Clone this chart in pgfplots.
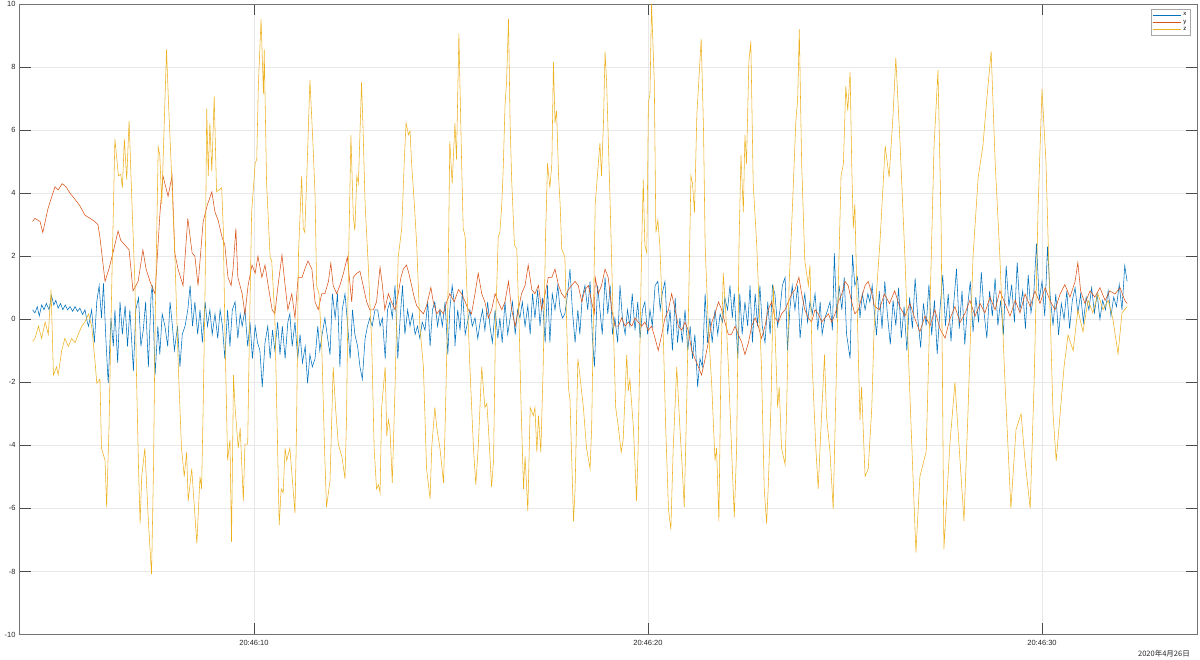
\documentclass[border=0pt]{standalone}
\usepackage{fontspec}
\setmainfont{Liberation Sans}
\newfontfamily\cjk{Noto Sans CJK JP}
\usepackage{pgfplots}
\pgfplotsset{compat=1.18}
\usetikzlibrary{calc}

\definecolor{mx}{RGB}{0,114,189}
\definecolor{my}{RGB}{217,83,25}
\definecolor{mz}{RGB}{237,177,32}

\begin{document}
\begin{tikzpicture}
\begin{axis}[
  scale only axis,
  width=1178pt, height=630.5pt,
  xmin=4.036, xmax=33.934,
  ymin=-10, ymax=10,
  xtick={10,20,30},
  xticklabels={20:46:10,20:46:20,20:46:30},
  ytick={-10,-8,...,10},
  tick align=inside, tick pos=both,
  major tick length=11.5pt,
  grid=major,
  major grid style={black!9, line width=0.6pt},
  axis line style={black!55, line width=0.6pt},
  every tick/.style={black!70, line width=0.6pt},
  tick label style={font=\fontsize{7.5}{9}\selectfont, text=black!85},
  xticklabel style={yshift=-2pt},
  /pgf/number format/assume math mode=true,
  no markers,
  legend cell align=left,
  legend style={at={(1,1)}, anchor=north east, xshift=-7pt, yshift=-5pt,
    font=\fontsize{6}{6}\selectfont, draw=black!35, line width=0.5pt,
    inner sep=1.5pt, row sep=-1.5pt},
  legend image code/.code={\draw[#1] (0pt,0pt) -- (28pt,0pt);},
]
\coordinate (sw) at (rel axis cs:0,0);
\coordinate (ne) at (rel axis cs:1,1);

% x
\addplot[mx, line width=0.55pt] coordinates {
(4.38,0.3) (4.44,0.2) (4.50,0.4) (4.55,0.1) (4.61,0.45) (4.67,0.3) (4.73,0.5) (4.80,0.3)
(4.86,0.75) (4.92,0.45) (4.97,0.6) (5.03,0.35) (5.09,0.5) (5.15,0.3) (5.21,0.45) (5.27,0.3)
(5.33,0.4) (5.40,0.25) (5.46,0.4) (5.52,0.25) (5.58,0.35) (5.65,0.15) (5.71,0.3) (5.77,-0.1)
(5.80,-0.22) (5.88,0.3) (5.95,-0.74) (6.01,0.55) (6.07,1.07) (6.13,0.04) (6.18,1.14) (6.24,-0.61)
(6.30,-2.03) (6.37,0.04) (6.43,-0.86) (6.47,0.3) (6.54,-1.38) (6.60,0.55) (6.66,-0.48) (6.73,0.43)
(6.79,-0.86) (6.85,0.3) (6.94,-1.64) (7.00,0.3) (7.07,0.68) (7.13,-0.86) (7.19,-0.35) (7.25,0.55)
(7.32,-1.51) (7.39,0.81) (7.42,1.07) (7.49,-1.77) (7.56,-0.22) (7.61,-1.12) (7.67,0.17) (7.74,-0.22)
(7.81,-0.86) (7.87,0.55) (7.93,-0.22) (7.98,-0.99) (8.06,-0.22) (8.12,-1.51) (8.18,-0.48) (8.25,-0.22)
(8.32,0.3) (8.38,1.07) (8.44,-0.22) (8.50,0.55) (8.57,-0.48) (8.63,0.3) (8.69,-0.74) (8.76,0.55)
(8.82,-0.22) (8.88,0.3) (8.94,-0.48) (9.01,0.17) (9.08,-0.61) (9.14,0.3) (9.20,-0.22) (9.26,-1.25)
(9.33,0.3) (9.39,-0.86) (9.45,0.3) (9.52,0.55) (9.59,-0.61) (9.65,0.17) (9.70,-0.22) (9.77,0.3)
(9.84,-0.86) (9.90,-0.09) (9.96,-1.25) (10.03,-0.22) (10.09,-0.74) (10.15,-0.99) (10.21,-2.15) (10.28,-0.74)
(10.35,-0.22) (10.41,-1.25) (10.47,-0.35) (10.53,-0.99) (10.60,-0.09) (10.66,-1.12) (10.72,-0.22) (10.79,-1.25)
(10.86,-0.09) (10.91,0.17) (10.97,-0.86) (11.04,-0.09) (11.11,-1.25) (11.17,-0.48) (11.23,-1.38) (11.30,-0.86)
(11.36,-2.03) (11.42,-1.12) (11.48,-1.51) (11.55,-1.25) (11.62,-0.22) (11.67,-0.99) (11.73,-0.48) (11.80,0.04)
(11.87,-0.61) (11.93,-1.12) (11.99,0.81) (12.06,0.04) (12.12,0.81) (12.18,-1.51) (12.24,0.3) (12.31,0.81)
(12.38,-0.22) (12.44,-1.25) (12.50,0.3) (12.56,-0.48) (12.63,-0.86) (12.69,-1.51) (12.75,-1.9) (12.82,-0.61)
(12.88,-0.22) (12.94,0.04) (13.00,-0.22) (13.07,0.3) (13.14,0.3) (13.20,-0.22) (13.26,0.04) (13.33,-1.25)
(13.39,0.3) (13.45,0.55) (13.51,0.04) (13.58,1.07) (13.65,-1.25) (13.71,0.04) (13.77,1.07) (13.83,-0.48)
(13.90,0.3) (13.96,-0.22) (14.02,0.17) (14.09,-0.48) (14.15,-0.22) (14.21,-0.61) (14.27,-0.09) (14.34,-0.35)
(14.41,0.55) (14.47,-0.86) (14.53,0.3) (14.59,0.55) (14.66,-0.22) (14.72,0.3) (14.78,-0.22) (14.85,0.55)
(14.92,-1.12) (14.97,0.3) (15.03,1.07) (15.08,0.55) (15.10,-0.86) (15.17,0.3) (15.23,-0.35) (15.29,0.94)
(15.36,-0.48) (15.42,-0.09) (15.48,0.3) (15.54,-0.22) (15.61,0.04) (15.68,-0.61) (15.74,-0.09) (15.80,0.3)
(15.86,-0.35) (15.93,0.55) (15.99,-0.22) (16.05,-0.74) (16.12,0.3) (16.19,-0.61) (16.24,0.04) (16.30,-0.74)
(16.37,0.55) (16.44,-0.48) (16.50,0.04) (16.56,0.55) (16.63,-0.48) (16.69,0.3) (16.75,0.04) (16.81,0.55)
(16.88,-0.22) (16.95,0.43) (17.01,-0.48) (17.07,0.81) (17.13,0.04) (17.20,0.94) (17.26,-0.22) (17.32,0.68)
(17.39,-0.74) (17.45,1.07) (17.51,-0.74) (17.57,0.81) (17.64,0.3) (17.71,1.07) (17.77,0.3) (17.83,0.04)
(17.89,0.17) (17.96,0.81) (18.02,1.59) (18.08,0.3) (18.15,-0.74) (18.22,0.3) (18.27,-0.48) (18.33,0.68)
(18.40,1.07) (18.47,0.3) (18.53,1.2) (18.59,-0.61) (18.64,-1.51) (18.72,1.07) (18.78,0.3) (18.84,-0.48)
(18.91,1.33) (18.98,0.17) (19.04,1.07) (19.10,-0.48) (19.16,0.04) (19.23,-0.74) (19.29,1.07) (19.35,0.04)
(19.42,-0.48) (19.48,0.3) (19.54,-0.22) (19.60,0.81) (19.67,-0.35) (19.74,0.55) (19.80,-0.61) (19.86,0.3)
(19.92,0.55) (19.99,-0.48) (20.05,0.3) (20.11,-0.22) (20.18,1.07) (20.25,1.2) (20.31,0.3) (20.36,0.81)
(20.43,1.2) (20.50,-0.48) (20.56,0.3) (20.62,-0.99) (20.69,0.68) (20.75,-0.74) (20.81,0.04) (20.87,-0.74)
(20.94,0.3) (21.01,-0.99) (21.07,-0.22) (21.13,-1.25) (21.19,-0.48) (21.26,-2.15) (21.32,-1.25) (21.38,-1.51)
(21.45,0.81) (21.51,-0.74) (21.57,0.04) (21.63,-0.74) (21.70,0.3) (21.77,-0.48) (21.83,0.17) (21.89,-0.09)
(21.95,0.68) (22.02,0.3) (22.08,1.07) (22.14,0.04) (22.19,0.81) (22.28,-1.25) (22.33,0.81) (22.39,-0.48)
(22.46,0.55) (22.53,-0.22) (22.59,1.07) (22.65,-0.74) (22.72,0.81) (22.78,-0.22) (22.84,1.07) (22.90,-0.22)
(22.97,-0.74) (23.04,0.55) (23.10,-0.48) (23.16,1.07) (23.22,0.81) (23.29,-0.22) (23.35,0.3) (23.41,1.07)
(23.48,1.33) (23.54,-0.99) (23.60,0.3) (23.66,1.07) (23.73,0.3) (23.80,1.07) (23.86,-0.61) (23.92,0.3)
(23.98,0.81) (24.05,-0.09) (24.11,0.55) (24.17,0.17) (24.24,0.81) (24.31,-0.35) (24.37,0.55) (24.42,-0.48)
(24.49,0.04) (24.56,0.3) (24.62,0.55) (24.68,-0.35) (24.73,2.1) (24.79,0.04) (24.85,1.07) (24.92,0.3)
(24.98,1.33) (25.04,-0.48) (25.13,-1.25) (25.19,2.04) (25.25,1.07) (25.32,1.33) (25.38,0.04) (25.44,0.81)
(25.51,0.3) (25.58,0.81) (25.63,0.55) (25.69,1.07) (25.74,0.3) (25.80,-0.5) (25.87,0.9) (25.94,-0.3)
(26.01,1.2) (26.08,0.1) (26.15,-0.8) (26.22,0.6) (26.29,-0.2) (26.36,1.0) (26.43,-0.6) (26.50,0.4)
(26.57,-1.0) (26.64,0.7) (26.71,-0.3) (26.78,1.3) (26.85,0.0) (26.92,-0.9) (26.99,0.5) (27.06,-0.2)
(27.13,1.1) (27.20,-0.5) (27.27,0.6) (27.34,-1.1) (27.41,0.3) (27.48,1.4) (27.55,-0.2) (27.62,0.8)
(27.69,-0.7) (27.76,0.5) (27.83,1.6) (27.90,-0.3) (27.97,0.9) (28.04,-0.8) (28.11,0.4) (28.18,1.2)
(28.25,-0.4) (28.32,0.7) (28.39,-0.1) (28.46,1.5) (28.53,0.2) (28.60,-0.6) (28.67,0.9) (28.74,0.1)
(28.81,1.3) (28.88,-0.2) (28.95,0.6) (29.02,-0.5) (29.09,1.7) (29.16,0.4) (29.23,1.1) (29.30,-0.1)
(29.37,1.8) (29.44,0.3) (29.51,0.9) (29.58,-0.3) (29.65,1.4) (29.72,0.2) (29.79,0.8) (29.86,2.4)
(29.93,0.6) (30.00,1.2) (30.07,0.1) (30.14,2.3) (30.21,0.7) (30.28,-0.2) (30.35,0.8) (30.42,-0.5)
(30.49,0.5) (30.56,0.0) (30.63,0.9) (30.70,-0.3) (30.77,0.6) (30.84,1.0) (30.91,0.2) (30.98,0.8)
(31.05,-0.1) (31.12,0.7) (31.19,0.3) (31.26,1.0) (31.33,0.2) (31.40,0.8) (31.47,0.0) (31.54,0.6)
(31.61,0.3) (31.68,0.9) (31.75,0.1) (31.82,0.7) (31.89,0.4) (31.96,1.1) (32.03,0.3) (32.10,1.7)
(32.16,1.2)
};
\addlegendentry{x}

% y
\addplot[my, line width=0.55pt] coordinates {
(4.38,3.1) (4.44,3.2) (4.57,3.1) (4.64,2.75) (4.77,3.5) (4.87,3.9) (4.95,4.2) (5.03,4.1)
(5.13,4.3) (5.23,4.2) (5.33,4.0) (5.46,3.8) (5.58,3.6) (5.71,3.3) (5.84,3.2) (5.96,3.1)
(6.04,3.0) (6.09,2.6) (6.22,1.2) (6.32,1.6) (6.42,2.1) (6.55,2.8) (6.62,2.5) (6.73,2.35)
(6.83,2.2) (6.93,0.9) (7.06,1.2) (7.18,2.2) (7.26,1.6) (7.36,1.2) (7.49,0.8) (7.61,3.3)
(7.69,4.55) (7.82,3.9) (7.92,4.55) (7.99,2.1) (8.07,1.6) (8.20,1.07) (8.32,3.2) (8.43,2.1)
(8.50,2.0) (8.58,1.07) (8.71,3.1) (8.81,3.6) (8.93,4.04) (9.01,3.4) (9.09,3.14) (9.19,2.6)
(9.26,2.36) (9.34,1.33) (9.42,1.07) (9.47,1.6) (9.54,2.88) (9.59,1.33) (9.70,0.81) (9.77,0.15)
(9.85,1.07) (9.95,1.72) (10.03,1.46) (10.10,2.0) (10.20,1.33) (10.28,1.72) (10.36,1.07) (10.46,0.3)
(10.53,0.17) (10.61,1.07) (10.71,2.04) (10.79,1.07) (10.86,0.3) (10.96,0.81) (11.04,0.04) (11.12,1.33)
(11.22,1.33) (11.29,1.59) (11.37,1.85) (11.47,1.59) (11.55,0.55) (11.63,0.3) (11.72,0.81) (11.80,0.81)
(11.89,1.2) (11.95,1.78) (12.01,1.07) (12.10,0.81) (12.18,1.07) (12.27,1.46) (12.37,1.97) (12.44,1.07)
(12.48,0.55) (12.52,1.33) (12.61,1.46) (12.69,1.52) (12.77,1.07) (12.86,0.55) (12.94,0.3) (13.03,0.3)
(13.11,0.55) (13.20,1.65) (13.26,1.07) (13.32,0.3) (13.41,0.81) (13.49,0.55) (13.58,0.3) (13.66,0.81)
(13.73,1.33) (13.79,1.59) (13.87,1.72) (13.93,1.46) (14.00,1.07) (14.07,0.68) (14.13,0.43) (14.21,0.3)
(14.30,0.17) (14.38,0.43) (14.49,1.01) (14.55,0.55) (14.64,0.17) (14.72,0.3) (14.81,0.17) (14.89,0.55)
(14.97,0.81) (15.08,0.55) (15.19,0.94) (15.27,0.81) (15.36,0.55) (15.44,0.3) (15.52,0.17) (15.61,0.81)
(15.69,1.46) (15.78,0.81) (15.86,0.55) (15.95,0.04) (16.03,0.3) (16.12,0.81) (16.20,0.55) (16.29,0.3)
(16.37,0.55) (16.46,1.2) (16.54,0.3) (16.63,-0.22) (16.71,0.3) (16.79,0.81) (16.88,1.07) (16.96,1.72)
(17.05,0.94) (17.13,0.81) (17.22,1.07) (17.30,0.3) (17.39,0.81) (17.47,1.33) (17.56,1.33) (17.64,1.59)
(17.73,1.07) (17.81,0.81) (17.89,0.68) (17.98,0.94) (18.06,1.07) (18.15,1.2) (18.23,1.07) (18.32,0.55)
(18.40,0.94) (18.49,1.07) (18.57,0.55) (18.64,0.17) (18.66,1.33) (18.74,0.81) (18.82,1.07) (18.91,1.59)
(18.99,1.33) (19.08,0.3) (19.16,-0.22) (19.25,-0.22) (19.33,0.04) (19.42,-0.22) (19.50,-0.09) (19.59,-0.22)
(19.67,0.04) (19.75,-0.09) (19.84,-0.22) (19.92,-0.09) (20.01,-0.35) (20.09,-0.22) (20.18,-0.61) (20.26,-0.99)
(20.35,-0.48) (20.43,0.04) (20.52,0.3) (20.60,0.81) (20.69,0.3) (20.77,-0.22) (20.86,-0.35) (20.94,-0.09)
(21.02,-0.35) (21.11,-0.99) (21.19,-1.25) (21.28,-1.51) (21.36,-1.77) (21.45,-1.25) (21.53,-0.74) (21.62,-0.09)
(21.70,0.17) (21.79,0.55) (21.87,0.3) (21.95,-0.09) (22.04,-0.48) (22.12,-0.48) (22.21,-0.22) (22.29,-0.48)
(22.38,-0.74) (22.46,-1.12) (22.55,-0.74) (22.63,-0.22) (22.72,0.04) (22.80,-0.22) (22.88,-0.61) (22.97,-0.22)
(23.05,0.3) (23.14,0.55) (23.22,0.04) (23.31,-0.09) (23.39,0.17) (23.48,0.3) (23.56,0.55) (23.65,0.81)
(23.73,0.94) (23.83,1.33) (23.90,0.81) (23.98,0.3) (24.07,0.04) (24.15,-0.09) (24.24,0.3) (24.32,0.17)
(24.41,-0.09) (24.49,0.04) (24.58,0.17) (24.66,-0.09) (24.75,0.17) (24.83,0.55) (24.92,0.81) (25.00,1.2)
(25.08,1.07) (25.17,0.55) (25.25,0.17) (25.34,0.3) (25.42,0.68) (25.51,1.07) (25.59,1.2) (25.68,0.81)
(25.74,0.43) (25.87,0.3) (26.00,0.8) (26.13,0.5) (26.26,0.9) (26.39,0.4) (26.52,0.1) (26.65,0.5)
(26.78,0.0) (26.90,-0.4) (27.03,0.1) (27.16,-0.2) (27.28,0.3) (27.41,-0.3) (27.54,-0.6) (27.66,0.0)
(27.79,0.4) (27.92,-0.1) (28.05,0.2) (28.17,0.6) (28.30,0.1) (28.43,0.5) (28.55,0.2) (28.68,0.7)
(28.81,0.3) (28.93,0.9) (29.06,0.5) (29.19,0.1) (29.32,0.6) (29.44,0.2) (29.57,0.8) (29.70,0.4)
(29.82,0.9) (29.95,0.5) (30.08,1.0) (30.20,0.6) (30.33,0.3) (30.46,0.8) (30.58,1.1) (30.71,0.7)
(30.84,1.2) (30.91,1.8) (30.98,0.9) (31.09,0.5) (31.22,0.9) (31.34,0.7) (31.47,1.0) (31.60,0.6)
(31.72,0.9) (31.85,0.8) (31.98,1.0) (32.10,0.6) (32.16,0.5)
};
\addlegendentry{y}

% z
\addplot[mz, line width=0.55pt] coordinates {
(4.38,-0.7) (4.44,-0.61) (4.53,-0.22) (4.61,-0.61) (4.70,-0.09) (4.78,-0.48) (4.85,0.94) (4.91,-1.77)
(4.99,-1.51) (5.03,-1.77) (5.12,-0.99) (5.20,-0.61) (5.29,-0.86) (5.37,-0.61) (5.46,-0.74) (5.54,-0.48)
(5.63,-0.22) (5.71,-0.09) (5.80,0.17) (5.88,-0.22) (5.96,-1.25) (6.01,-2.03) (6.09,-1.9) (6.13,-4.09)
(6.22,-4.48) (6.26,-5.96) (6.32,-3.45) (6.39,1.07) (6.47,5.72) (6.56,4.55) (6.62,4.6) (6.66,4.17)
(6.71,5.72) (6.77,4.43) (6.83,6.3) (6.90,3.78) (6.98,1.07) (7.02,-1.9) (7.07,-4.74) (7.11,-6.48)
(7.15,-4.99) (7.23,-4.09) (7.32,-6.41) (7.40,-8.09) (7.45,-4.74) (7.49,-0.22) (7.57,5.46) (7.61,5.2)
(7.66,3.65) (7.70,5.33) (7.78,8.55) (7.83,6.88) (7.91,4.55) (7.99,2.1) (8.08,-1.51) (8.16,-4.09)
(8.23,-4.99) (8.29,-4.22) (8.33,-5.77) (8.42,-4.74) (8.55,-7.12) (8.63,-4.99) (8.67,-5.38) (8.71,-2.8)
(8.76,1.07) (8.80,6.68) (8.84,4.55) (8.88,6.23) (8.93,4.68) (8.99,7.07) (9.05,4.04) (9.18,4.17)
(9.22,2.88) (9.26,-0.22) (9.33,-4.48) (9.39,-3.83) (9.43,-7.06) (9.48,-1.77) (9.52,-2.8) (9.60,-4.09)
(9.65,-3.45) (9.73,-5.77) (9.77,-3.96) (9.84,-3.96) (9.87,-1.51) (9.94,3.39) (10.03,4.94) (10.07,5.07)
(10.11,7.39) (10.18,9.52) (10.24,7.14) (10.26,8.55) (10.32,4.3) (10.41,1.97) (10.45,1.85) (10.53,0.04)
(10.60,-4.09) (10.64,-6.54) (10.69,-5.38) (10.74,-5.51) (10.79,-4.09) (10.83,-4.48) (10.91,-4.09) (10.96,-4.86)
(11.04,-6.15) (11.08,-3.45) (11.13,2.1) (11.21,4.55) (11.25,2.88) (11.29,2.75) (11.34,4.55) (11.42,7.6)
(11.51,5.2) (11.55,3.91) (11.59,1.07) (11.65,0.81) (11.72,-0.86) (11.79,-4.09) (11.84,-5.96) (11.93,-5.12)
(12.01,-1.51) (12.07,-2.8) (12.14,-3.96) (12.23,-4.35) (12.31,-5.06) (12.35,-3.06) (12.39,1.07) (12.46,5.85)
(12.52,3.26) (12.56,2.81) (12.61,4.55) (12.65,4.3) (12.73,7.52) (12.77,5.97) (12.82,3.65) (12.90,1.72)
(12.99,-0.86) (13.05,-4.09) (13.11,-5.38) (13.16,-5.25) (13.20,-5.51) (13.24,-2.8) (13.33,-1.51) (13.37,-3.7)
(13.41,-3.19) (13.45,-3.45) (13.51,-5.19) (13.58,-2.15) (13.66,1.97) (13.75,2.88) (13.82,5.2) (13.86,6.23)
(13.92,5.85) (13.96,5.97) (14.00,4.94) (14.07,3.65) (14.13,2.36) (14.21,-0.22) (14.30,-1.51) (14.38,-4.74)
(14.47,-5.7) (14.51,-4.09) (14.59,-2.8) (14.64,-3.45) (14.72,-4.09) (14.81,-5.19) (14.85,-3.45) (14.92,0.43)
(14.97,5.65) (15.03,4.3) (15.10,6.23) (15.14,5.07) (15.20,9.07) (15.27,4.94) (15.31,2.88) (15.36,2.62)
(15.40,1.07) (15.48,-1.51) (15.57,-4.09) (15.63,-5.25) (15.69,-4.09) (15.78,-1.51) (15.86,-2.8) (15.91,-2.67)
(15.95,-3.45) (16.03,-5.32) (16.08,-4.48) (16.13,-0.22) (16.20,2.62) (16.24,2.75) (16.29,3.65) (16.33,4.94)
(16.37,6.75) (16.41,7.52) (16.46,9.52) (16.50,6.23) (16.54,4.43) (16.61,2.36) (16.67,2.23) (16.73,-0.22)
(16.78,-2.8) (16.84,-5.38) (16.88,-4.35) (16.95,-6.09) (17.01,-2.8) (17.09,-3.06) (17.13,-2.8) (17.18,-4.22)
(17.22,-3.06) (17.28,-4.22) (17.34,-1.51) (17.40,2.62) (17.45,4.94) (17.51,4.17) (17.56,4.94) (17.60,8.17)
(17.64,6.23) (17.68,6.62) (17.73,4.55) (17.77,3.65) (17.81,2.23) (17.89,1.97) (17.98,-2.15) (18.02,-2.54)
(18.11,-6.41) (18.15,-5.38) (18.22,-1.25) (18.27,-1.77) (18.36,-2.8) (18.44,-4.09) (18.53,-4.74) (18.57,-3.45)
(18.66,3.65) (18.74,4.94) (18.78,5.59) (18.82,4.55) (18.87,6.23) (18.91,8.49) (18.95,7.52) (19.04,3.65)
(19.12,-0.22) (19.18,-2.8) (19.25,-3.45) (19.32,-4.22) (19.37,-3.83) (19.46,-1.12) (19.50,-2.28) (19.54,-1.9)
(19.63,-3.45) (19.71,-5.77) (19.75,-4.09) (19.84,2.36) (19.88,4.43) (19.92,2.36) (19.97,2.1) (20.01,6.88)
(20.05,7.14) (20.09,10.0) (20.16,7.52) (20.20,2.75) (20.25,3.14) (20.30,2.36) (20.39,-0.61) (20.45,-3.45)
(20.52,-6.03) (20.58,-6.67) (20.64,-4.09) (20.73,-1.51) (20.81,-3.45) (20.87,-4.74) (20.92,-5.96) (20.98,-2.8)
(21.04,1.07) (21.09,4.55) (21.13,4.3) (21.18,3.39) (21.24,6.49) (21.30,7.78) (21.35,8.9) (21.41,5.97)
(21.45,2.36) (21.53,-0.22) (21.62,-2.15) (21.70,-4.48) (21.74,-4.09) (21.80,-6.41) (21.85,-1.51) (21.91,1.46)
(21.97,0.3) (22.04,-1.51) (22.12,-4.09) (22.19,-6.28) (22.25,-4.09) (22.31,2.36) (22.36,5.2) (22.42,3.39)
(22.46,5.85) (22.50,4.94) (22.56,8.17) (22.61,8.81) (22.67,4.3) (22.76,2.36) (22.80,1.07) (22.88,-1.51)
(22.95,-5.38) (23.01,-6.48) (23.05,-5.38) (23.12,-2.8) (23.18,1.07) (23.22,-0.22) (23.29,-2.8) (23.33,-2.15)
(23.39,-4.09) (23.48,-4.61) (23.52,-2.8) (23.58,1.07) (23.63,2.49) (23.69,4.3) (23.75,6.23) (23.80,7.0)
(23.84,9.2) (23.90,4.94) (23.98,1.85) (24.07,1.07) (24.11,1.72) (24.17,-1.51) (24.26,-4.09) (24.32,-5.38)
(24.39,-3.45) (24.48,-1.12) (24.53,-3.06) (24.62,-4.22) (24.70,-6.03) (24.76,-2.8) (24.83,1.07) (24.90,4.55)
(24.96,4.94) (25.02,7.39) (25.07,6.62) (25.13,7.85) (25.17,4.94) (25.21,2.88) (25.25,3.65) (25.32,-0.22)
(25.38,-3.19) (25.42,-2.15) (25.51,-4.99) (25.59,-4.74) (25.68,-2.8) (25.74,-0.22) (25.89,2.5) (26.02,5.5)
(26.12,4.5) (26.22,6.5) (26.29,8.3) (26.40,5.5) (26.52,2.0) (26.65,-2.5) (26.80,-7.4) (26.90,-5.0)
(27.06,-4.2) (27.16,0.5) (27.26,5.5) (27.36,7.9) (27.44,3.0) (27.51,-7.3) (27.66,-4.0) (27.79,-2.0)
(27.92,-4.5) (28.02,-6.4) (28.12,-3.0) (28.25,2.0) (28.38,4.5) (28.50,5.5) (28.60,7.0) (28.71,8.5)
(28.81,5.0) (28.93,2.0) (29.06,-2.0) (29.21,-6.0) (29.34,-3.5) (29.47,-3.0) (29.57,-4.5) (29.70,-6.0)
(29.80,-2.0) (29.90,3.5) (30.00,7.3) (30.10,5.0) (30.20,0.5) (30.28,-3.0) (30.36,-4.5) (30.46,-3.0)
(30.56,-1.5) (30.66,-0.5) (30.79,-1.0) (30.91,0.3) (31.04,-0.4) (31.17,0.6) (31.29,0.2) (31.42,0.8)
(31.55,0.3) (31.68,0.6) (31.80,0.0) (31.93,-1.1) (32.03,0.2) (32.16,0.4)
};
\addlegendentry{z}
\end{axis}
\node[anchor=east, inner sep=0pt, font=\cjk\fontsize{7.5}{9}\selectfont, text=black!85]
  at ($(ne |- sw)+(-7pt,-19pt)$) {2020年4月26日};
\pgfresetboundingbox
\path[use as bounding box] ($(sw)+(-19pt,-25.5pt)$) rectangle ($(ne)+(3pt,4pt)$);
\end{tikzpicture}
\end{document}
